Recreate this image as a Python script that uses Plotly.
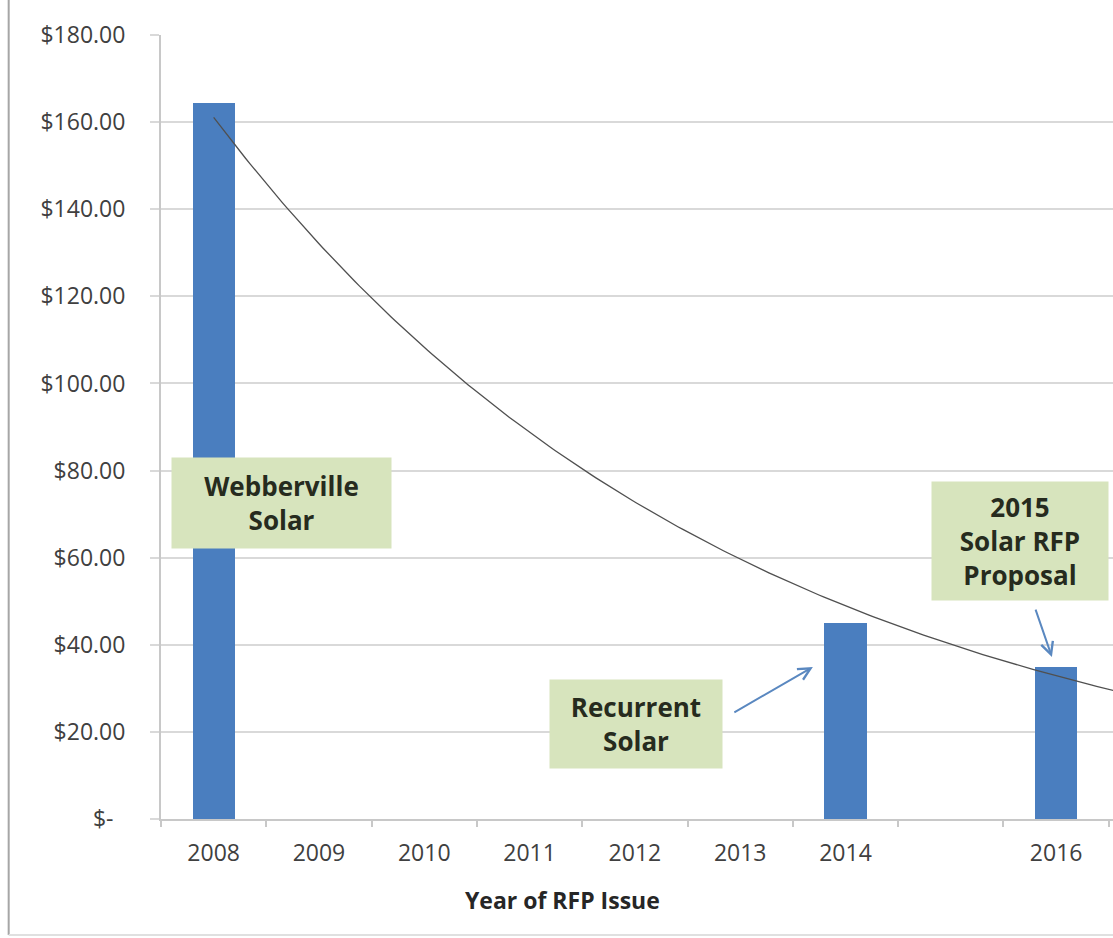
import numpy as np
import plotly.graph_objects as go

# ---- data ----
categories = ["2008", "2009", "2010", "2011", "2012", "2013", "2014", "", "2016"]
cat_pos = [1, 2, 3, 4, 5, 6, 7, 8, 9]
bar_years = ["2008", "2014", "2016"]
bar_values = [164.5, 45.0, 35.0]
y_ticks = [0, 20, 40, 60, 80, 100, 120, 140, 160, 180]
y_ticktext = ["$-\u00a0\u00a0", "$20.00", "$40.00", "$60.00", "$80.00", "$100.00",
              "$120.00", "$140.00", "$160.00", "$180.00"]

bar_x = [cat_pos[categories.index(y)] for y in bar_years]

# exponential trendline fitted to the bar values (as Excel does)
b, ln_a = np.polyfit(bar_x, np.log(bar_values), 1)
trend_x = np.linspace(1, 9.6, 200)
trend_y = np.exp(ln_a) * np.exp(b * trend_x)

FONT = "Open Sans"
TXT = "#404040"
GRID = "#d9d9d9"
BOX = "#d7e4bd"

fig = go.Figure()
fig.add_trace(go.Bar(x=bar_x, y=bar_values, width=0.4,
                     marker=dict(color="#4a7ebf", line=dict(width=0)),
                     hoverinfo="skip", showlegend=False))
fig.add_trace(go.Scatter(x=trend_x, y=trend_y, mode="lines",
                         line=dict(color="#505050", width=1.3),
                         hoverinfo="skip", showlegend=False))

# text boxes
boxes = [
    dict(x=1.64, y=72.5, text="Webberville<br>Solar", w=219, h=90),
    dict(x=5.01, y=21.8, text="Recurrent<br>Solar", w=172, h=88),
    dict(x=8.66, y=63.8, text="2015<br>Solar RFP<br>Proposal", w=176, h=118),
]
for bx in boxes:
    fig.add_annotation(x=bx["x"], y=bx["y"], xref="x", yref="y", text="<b>%s</b>" % bx["text"],
                       showarrow=False, bgcolor=BOX, width=bx["w"], height=bx["h"],
                       font=dict(family=FONT, size=26, color="#262b1e"), align="center",
                       borderpad=0)

# arrows
arrows = [((5.93, 24.3), (6.69, 34.9)), ((8.80, 48.4), (8.96, 37.2))]
for (tx, ty), (hx, hy) in arrows:
    fig.add_annotation(x=hx, y=hy, ax=tx, ay=ty, xref="x", yref="y", axref="x", ayref="y",
                       text="", showarrow=True, arrowhead=5, arrowsize=1.2, arrowwidth=2,
                       arrowcolor="#5a88c0")

# axis title
fig.add_annotation(x=0.422, y=-0.103, xref="paper", yref="paper", yanchor="middle",
                   text="<b>Year of RFP Issue</b>",
                   showarrow=False, font=dict(family=FONT, size=23, color="#262626"))

# outer frame (left and bottom)
fig.add_shape(type="line", xref="paper", yref="paper", x0=-0.16, x1=-0.16, y0=-0.148, y1=1.06,
              line=dict(color="#a6a6a6", width=2))
fig.add_shape(type="line", xref="paper", yref="paper", x0=-0.16, x1=1.02, y0=-0.148, y1=-0.148,
              line=dict(color="#e0e0e0", width=2))

fig.update_layout(
    width=1113, height=938,
    margin=dict(l=161, r=0, t=35, b=119),
    paper_bgcolor="white", plot_bgcolor="white",
    bargap=0,
    font=dict(family=FONT, size=24, color=TXT),
    xaxis=dict(range=[0.5, 9.54], tickmode="array", tickvals=cat_pos, ticktext=categories,
               showgrid=False, zeroline=False, showline=True, linecolor="#c8c8c8", linewidth=2,
               ticks="", ticklabelstandoff=12,
               minor=dict(tickmode="array", tickvals=[p - 0.5 for p in cat_pos] + [9.5],
                          ticks="outside", ticklen=6, tickcolor="#c8c8c8", tickwidth=2, showgrid=False),
               tickfont=dict(family=FONT, size=23, color=TXT)),
    yaxis=dict(range=[0, 180], tickmode="array", tickvals=y_ticks, ticktext=y_ticktext,
               showgrid=True, gridcolor=GRID, gridwidth=2, zeroline=False,
               showline=True, linecolor="#c8c8c8", linewidth=2,
               ticks="outside", ticklen=9, tickcolor=GRID, tickwidth=2,
               ticklabelstandoff=20,
               tickfont=dict(family=FONT, size=23, color=TXT)),
)

fig.write_html("out.html")
